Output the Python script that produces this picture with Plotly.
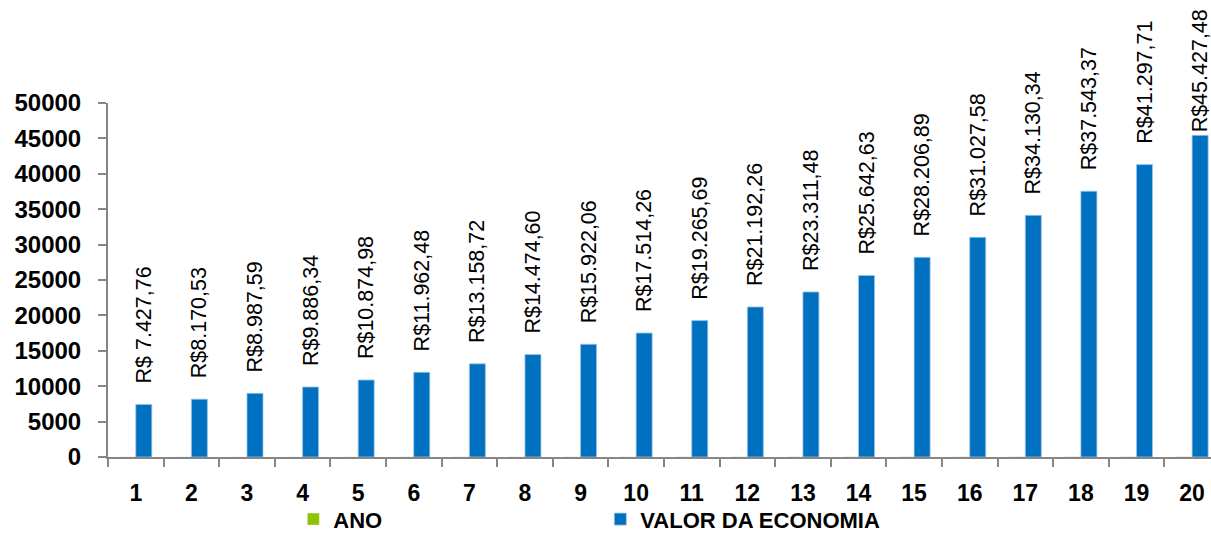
import plotly.graph_objects as go

anos = [str(i) for i in range(1, 21)]
ano_valores = list(range(1, 21))
economia = [7427.76, 8170.53, 8987.59, 9886.34, 10874.98, 11962.48, 13158.72,
            14474.60, 15922.06, 17514.26, 19265.69, 21192.26, 23311.48, 25642.63,
            28206.89, 31027.58, 34130.34, 37543.37, 41297.71, 45427.48]
rotulos = ["R$ 7.427,76", "R$8.170,53", "R$8.987,59", "R$9.886,34", "R$10.874,98",
           "R$11.962,48", "R$13.158,72", "R$14.474,60", "R$15.922,06", "R$17.514,26",
           "R$19.265,69", "R$21.192,26", "R$23.311,48", "R$25.642,63", "R$28.206,89",
           "R$31.027,58", "R$34.130,34", "R$37.543,37", "R$41.297,71", "R$45.427,48"]
y_ticks = list(range(0, 50001, 5000))

pad = "\u00a0" * 3
textos = [pad + t for t in rotulos[:-1]] + [rotulos[-1]]

FONT = "Liberation Sans, Arial, sans-serif"
AXIS = "#868686"

fig = go.Figure()
fig.add_trace(go.Bar(x=anos, y=ano_valores, name="ANO", marker_color="#8DC400",
                     hoverinfo="skip"))
fig.add_trace(go.Bar(x=anos, y=economia, name="VALOR DA ECONOMIA",
                     marker=dict(color="#0070C0", line=dict(color="#9DC3E6", width=0.8)),
                     text=textos, textposition="outside", textangle=-90,
                     constraintext="none", cliponaxis=False,
                     textfont=dict(family=FONT, size=21.5, color="#000000")))

fig.update_layout(
    width=1211, height=534,
    margin=dict(l=108, r=0, t=103, b=77, autoexpand=False),
    paper_bgcolor="white", plot_bgcolor="white",
    barmode="group", bargap=0.424, bargroupgap=0,
    showlegend=True,
    legend=dict(orientation="h", x=0.168, y=-0.176, xanchor="left", yanchor="middle",
                entrywidth=262, entrywidthmode="pixels", bgcolor="rgba(0,0,0,0)",
                font=dict(family=FONT, size=22, color="#000000", weight="bold"),
                traceorder="normal"),
    xaxis=dict(type="category", range=[-0.5, 19.34], showline=True, linecolor=AXIS,
               linewidth=2, ticks="outside", tickson="boundaries", ticklen=8,
               tickwidth=2, tickcolor=AXIS, showgrid=False, ticklabelstandoff=14,
               automargin=False,
               tickfont=dict(family=FONT, size=23, color="#000000", weight="bold")),
    yaxis=dict(range=[0, 50000], tickvals=y_ticks, showline=True, linecolor=AXIS,
               linewidth=2, ticks="outside", ticklen=8, tickwidth=2, tickcolor=AXIS,
               showgrid=False, zeroline=False, ticklabelstandoff=12,
               tickformat="d", automargin=False,
               tickfont=dict(family=FONT, size=24, color="#000000", weight="bold")),
)

fig.write_html("out.html", config={"displayModeBar": False},
               post_script="document.body.style.margin='0';document.body.style.overflow='hidden';")
